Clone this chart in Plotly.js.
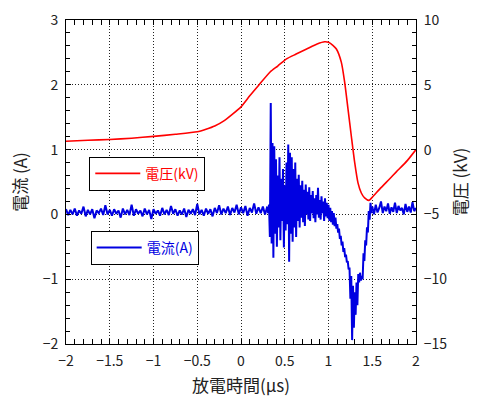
<!DOCTYPE html>
<html><head><meta charset="utf-8">
<script src="https://cdn.plot.ly/plotly-3.0.1.min.js"></script>
<style>html,body{margin:0;padding:0;background:#fff}#chart{width:479px;height:398px}</style>
</head><body><div id="chart"></div>
<script>
// Voltage (kV), right axis
const voltageTime = [-2.0,-1.75,-1.5,-1.25,-1.0,-0.75,-0.5,-0.4,-0.3,-0.2,-0.1,0.0,0.1,0.2,0.33,0.42,0.52,0.63,0.75,0.87,0.957,1.0,1.05,1.09,1.147,1.185,1.223,1.261,1.30,1.337,1.375,1.413,1.463,1.50,1.585,1.70,1.775,1.90,2.0];
const voltageKV   = [0.64,0.72,0.78,0.88,1.02,1.18,1.37,1.57,1.82,2.2,2.72,3.3,4.15,4.95,5.97,6.45,7.0,7.37,7.76,8.15,8.32,8.28,8.05,7.76,6.73,5.18,3.12,1.03,-1.03,-2.57,-3.35,-3.73,-3.92,-3.68,-3.05,-2.25,-1.72,-0.85,0.0];

// Current (A), left axis - sampled segments (start time, sample spacing in µs)
const baselineStart = -2.0, baselineStep = 0.025;
const currentBaseline = [
0.08,-0.01,0.07,0.00,0.09,-0.02,0.06,0.01,0.12,-0.03,
0.07,0.00,0.08,-0.06,0.06,0.02,0.09,-0.01,0.14,0.00,
0.07,-0.02,0.08,0.01,0.06,-0.05,0.09,0.00,0.07,-0.01,
0.15,-0.02,0.08,0.01,0.06,-0.03,0.09,0.00,0.07,-0.07,
0.08,0.01,0.06,-0.02,0.10,0.00,0.07,-0.01,0.13,0.01,
0.08,-0.02,0.06,0.00,0.09,-0.04,0.07,0.01,0.08,-0.01,
0.16,0.00,0.07,-0.02,0.09,0.01,0.08,-0.03,0.10,0.02,
0.14,0.00,0.09,0.02,0.12,-0.01,0.10,0.03,0.15,0.00,
0.11,0.02,0.13,-0.02,0.10,0.03,0.17,0.01,0.11,0.02,
0.12,0.00,0.12];
const burstStart = 0.30, burstStep = 0.01;
const currentBurst = [
0.12,0.02,0.15,-0.35,1.72,-0.45,1.10,-0.67,1.05,-0.30,
0.85,-0.50,0.60,-0.20,0.88,-0.40,0.55,-0.10,0.70,-0.51,
0.45,-0.25,0.80,-0.15,1.08,-0.73,0.95,-0.30,0.88,-0.42,
0.70,-0.20,0.80,-0.35,0.55,-0.10,0.61,-0.20,0.45,-0.05,
0.52,-0.12,0.38,-0.18,0.46,0.00,0.35,-0.08,0.42,-0.10,
0.30,0.02,0.36,-0.06,0.25,-0.12,0.30,0.00,0.41,-0.05,
0.22,-0.08,0.28,0.02,0.20,-0.10,0.25,-0.03,0.18,-0.06,
0.15,-0.10,0.10,-0.12,0.05,-0.16,0.02,-0.18,-0.05,-0.22,
-0.15];
const dipStart = 1.10, dipStep = 0.01;
const currentDip = [
-0.15,-0.28,-0.22,-0.38,-0.33,-0.48,-0.42,-0.58,-0.52,-0.66,
-0.62,-0.74,-0.72,-0.85,-0.82,-1.30,-0.95,-1.94,-1.10,-1.75,
-1.20,-1.55,-1.05,-1.40,-0.92,-1.05,-0.90,-1.02,-0.95,-1.00,
-0.60,-0.72,-0.40,-0.48,-0.20,-0.28,0.05,-0.08,0.18,0.02,
0.12];
const tailStart = 1.50, tailStep = 0.02;
const currentTail = [
0.12,0.00,0.15,0.03,0.10,0.20,0.02,0.12,0.05,0.17,
0.01,0.11,0.04,0.18,0.02,0.13,0.06,0.10,0.00,0.16,
0.04,0.12,0.03,0.19,0.05,0.10];

const segments = [
  [baselineStart, baselineStep, currentBaseline],
  [burstStart, burstStep, currentBurst],
  [dipStart, dipStep, currentDip],
  [tailStart, tailStep, currentTail]
];

const blue = 'rgb(0,0,225)';
const red = 'rgb(255,0,0)';
const traces = segments.map((s, i) => ({
  type: 'scatter', mode: 'lines', x0: s[0], dx: s[1], y: s[2],
  line: {color: blue, width: 2}, name: '電流(A)', legend: 'legend2',
  showlegend: i === 0, xaxis: 'x', yaxis: 'y', hoverinfo: 'skip'
}));
traces.push({
  type: 'scatter', mode: 'lines', x: voltageTime, y: voltageKV,
  line: {color: red, width: 1.6, shape: 'spline', smoothing: 0.6}, name: '電圧(kV)',
  legend: 'legend', yaxis: 'y2', hoverinfo: 'skip'
});

const font = 'Noto Sans CJK JP, Noto Sans, sans-serif';
const axisCommon = {
  showline: true, linecolor: '#000', linewidth: 1,
  ticks: 'inside', ticklen: 5, tickcolor: '#000', tickwidth: 1,
  tickfont: {size: 14, color: '#222', family: font},
  zeroline: false, griddash: '1px,2px', gridcolor: '#222', gridwidth: 1,
  ticklabelstandoff: 4
};

const layout = {
  width: 479, height: 398,
  margin: {l: 66, r: 63, t: 20, b: 54},
  paper_bgcolor: '#fff', plot_bgcolor: '#fff',
  font: {family: font, color: '#222'},
  xaxis: Object.assign({}, axisCommon, {
    range: [-2, 2], dtick: 0.5, tick0: 0, mirror: 'allticks', showgrid: true,
    minor: {dtick: 0.1, ticks: 'inside', ticklen: 4, tickcolor: '#000', showgrid: false},
    title: {text: '放電時間(µs)', font: {size: 17, color: '#222', family: font}, standoff: 11}
  }),
  yaxis: Object.assign({}, axisCommon, {
    range: [-2, 3], dtick: 1, tick0: 0, showgrid: true,
    minor: {dtick: 0.2, ticks: 'inside', ticklen: 4, tickcolor: '#000', showgrid: false},
    title: {text: '電流 (A)', font: {size: 17, color: '#222', family: font}, standoff: 10}
  }),
  yaxis2: Object.assign({}, axisCommon, {
    range: [-15, 10], dtick: 5, tick0: 0, overlaying: 'y', side: 'right', showgrid: false,
    minor: {dtick: 1, ticks: 'inside', ticklen: 4, tickcolor: '#000', showgrid: false},
    title: {text: '電圧 (kV)', font: {size: 17, color: '#222', family: font}, standoff: 8}
  }),
  legend: {
    x: 0.0665, y: 0.578, xanchor: 'left', yanchor: 'top', itemwidth: 45,
    bordercolor: '#000', borderwidth: 1, bgcolor: '#fff',
    font: {size: 14, color: red, family: font}
  },
  legend2: {
    x: 0.0705, y: 0.349, xanchor: 'left', yanchor: 'top', itemwidth: 45,
    bordercolor: '#000', borderwidth: 1, bgcolor: '#fff',
    font: {size: 14, color: blue, family: font}
  },
  showlegend: true
};

Plotly.newPlot('chart', traces, layout, {displayModeBar: false, staticPlot: true});
</script>
</body></html>
